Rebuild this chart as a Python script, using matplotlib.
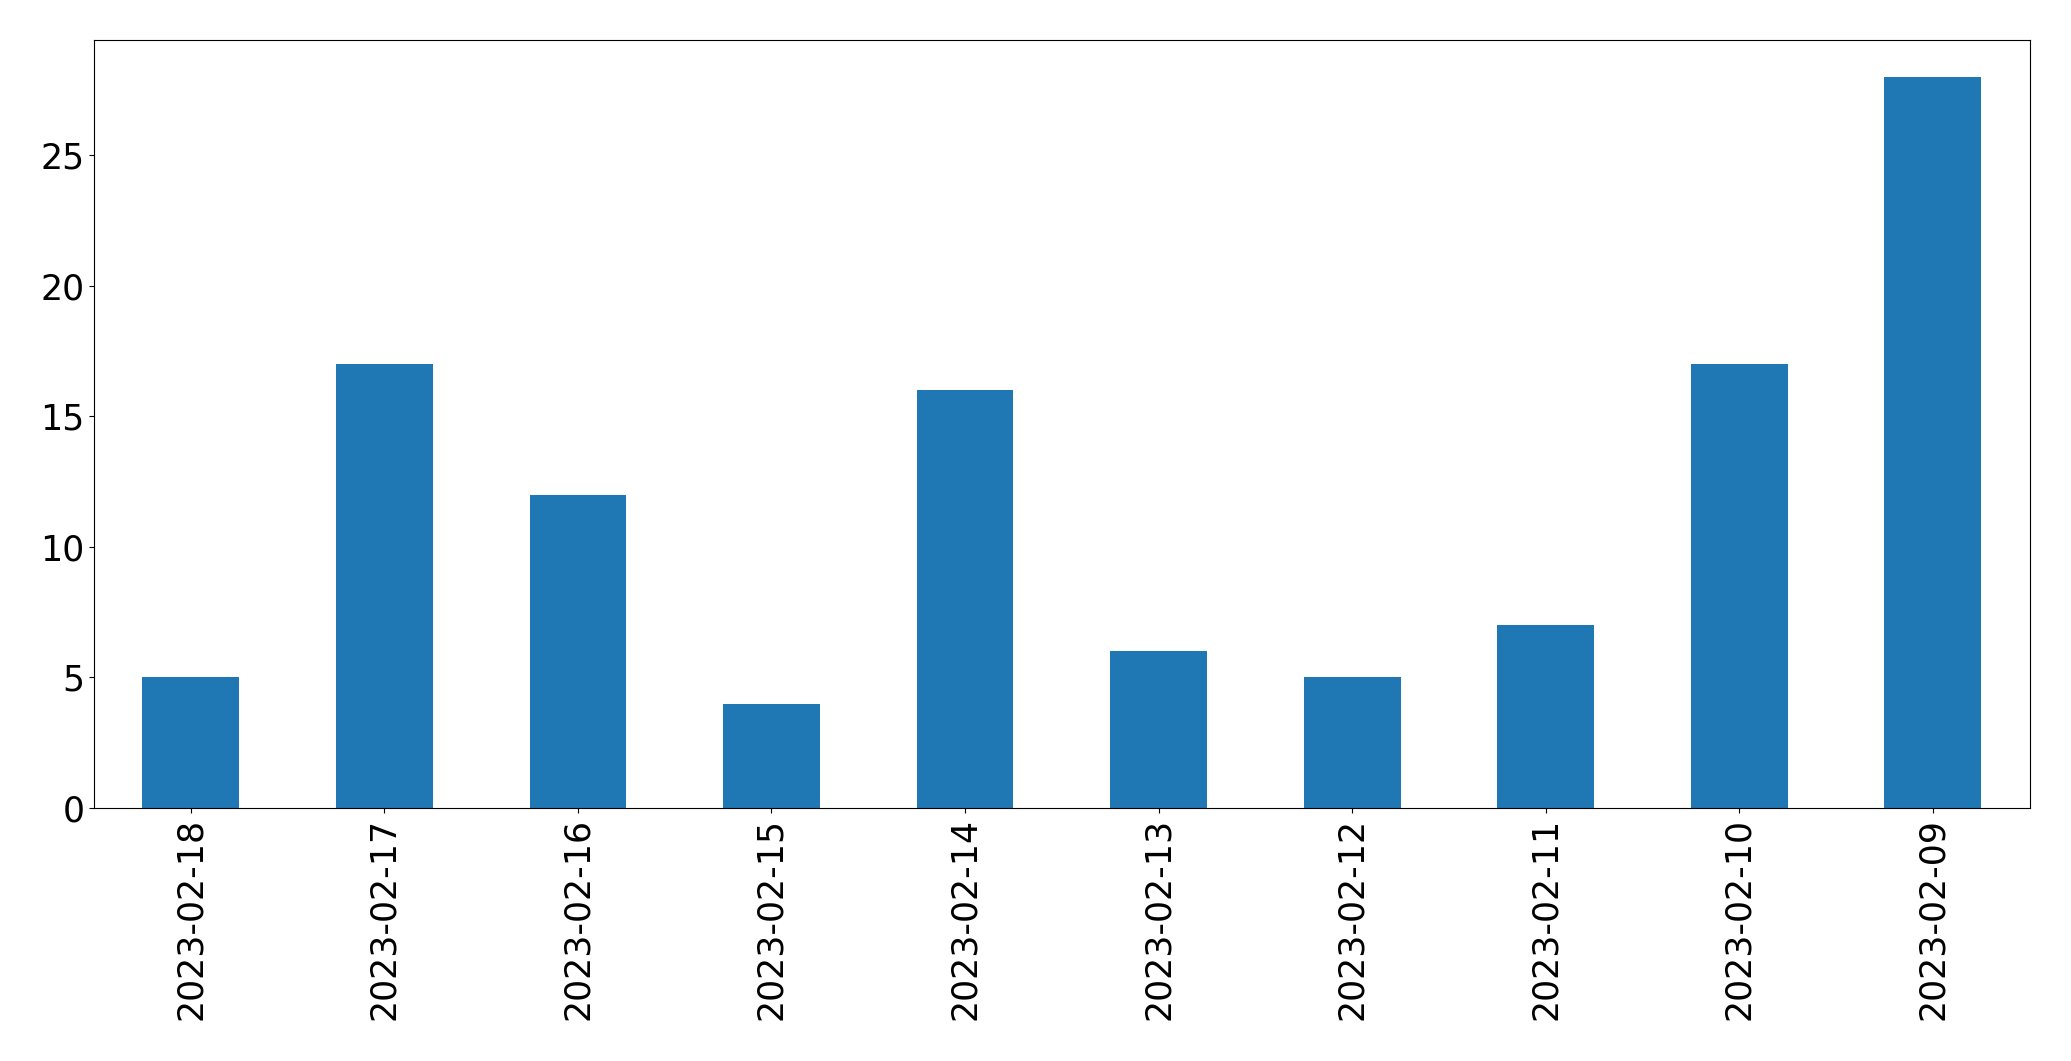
import matplotlib
matplotlib.use("Agg")
import matplotlib.pyplot as plt

dates = ["2023-02-18", "2023-02-17", "2023-02-16", "2023-02-15", "2023-02-14",
         "2023-02-13", "2023-02-12", "2023-02-11", "2023-02-10", "2023-02-09"]
counts = [5, 17, 12, 4, 16, 6, 5, 7, 17, 28]

fig, ax = plt.subplots(figsize=(20.71, 10.61), dpi=100)
fig.subplots_adjust(left=0.0454, right=0.980, top=0.962, bottom=0.2385)

x = range(len(dates))
ax.bar(x, counts, width=0.5, color="#1f77b4")
ax.set_xticks(list(x))
ax.set_xticklabels(dates, rotation=90, fontsize=25)
ax.tick_params(axis="y", labelsize=25)
ax.set_xlim(-0.5, len(dates) - 0.5)

fig.savefig("out.png", dpi=100)
